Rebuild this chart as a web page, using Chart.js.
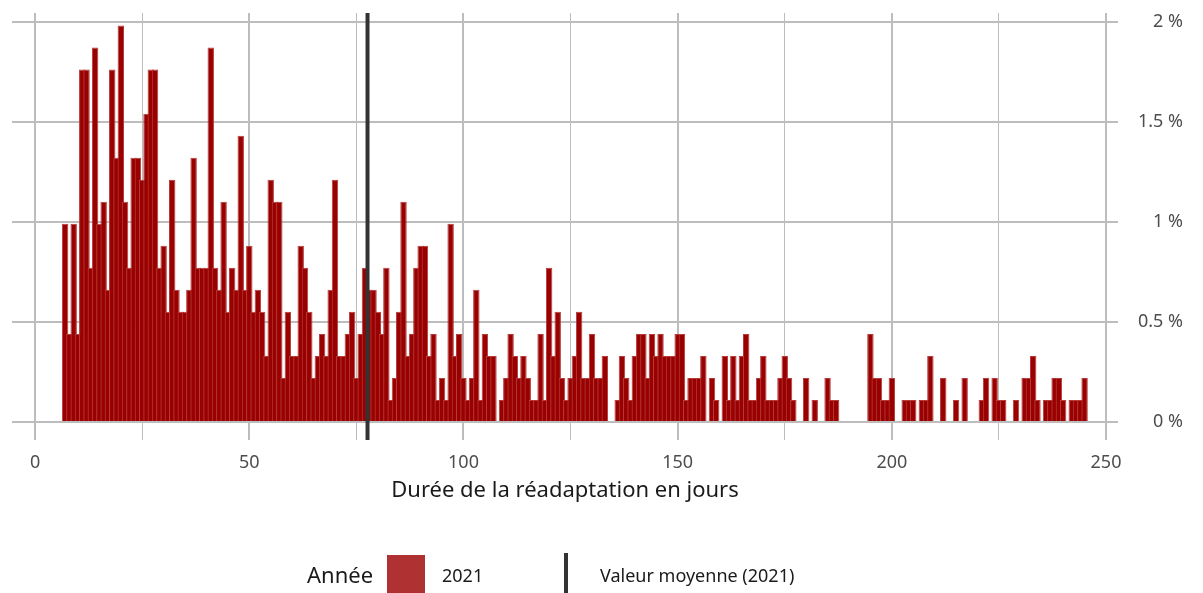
<!DOCTYPE html>
<html>
<head>
<meta charset="utf-8">
<script src="https://cdn.jsdelivr.net/npm/chart.js@4.4.1/dist/chart.umd.min.js"></script>
<style>
  html, body { margin: 0; padding: 0; background: #fff; }
  #wrap { width: 1203px; height: 593px; }
</style>
</head>
<body>
<div id="wrap"><canvas id="dureeChart" width="1203" height="593"></canvas></div>
<script>
// nombre de séjours par durée (jours 7 à 245)
const premierJour = 7;
const sejours = [
  9, 4, 9, 4, 16, 16, 7, 17, 9, 10,
  6, 16, 12, 18, 10, 7, 12, 12, 11, 14,
  16, 16, 7, 8, 5, 11, 6, 5, 5, 6,
  12, 7, 7, 7, 17, 7, 6, 10, 5, 7,
  6, 13, 6, 8, 5, 6, 5, 3, 11, 10,
  10, 2, 5, 3, 3, 8, 7, 5, 2, 3,
  4, 3, 6, 11, 3, 3, 4, 5, 2, 4,
  7, 6, 6, 5, 4, 7, 1, 2, 5, 10,
  3, 4, 7, 8, 8, 3, 4, 1, 2, 1,
  9, 3, 4, 2, 1, 2, 6, 1, 4, 3,
  3, 0, 1, 2, 4, 3, 2, 3, 2, 1,
  1, 4, 1, 7, 3, 5, 2, 1, 2, 3,
  5, 2, 2, 4, 2, 2, 3, 0, 0, 1,
  3, 2, 1, 3, 4, 4, 2, 4, 3, 4,
  3, 3, 3, 4, 4, 1, 2, 2, 2, 3,
  0, 2, 1, 0, 3, 1, 3, 1, 3, 4,
  1, 1, 2, 3, 1, 1, 1, 2, 3, 2,
  1, 0, 0, 2, 0, 1, 0, 0, 2, 1,
  1, 0, 0, 0, 0, 0, 0, 0, 4, 2,
  2, 1, 1, 2, 0, 0, 1, 1, 1, 0,
  1, 1, 3, 0, 0, 2, 0, 0, 1, 0,
  2, 0, 0, 0, 1, 2, 0, 2, 1, 1,
  0, 0, 1, 0, 2, 2, 3, 1, 0, 1,
  1, 2, 2, 1, 0, 1, 1, 1, 2
];
const moyenne = 77.6;
const annee = '2021';

const police = '"Noto Sans", "Open Sans", sans-serif';
const total = sejours.reduce((a, b) => a + b, 0);

const points = [];
sejours.forEach((n, i) => {
  if (n > 0) points.push({ x: premierJour + i, y: n / total * 100 });
});

const yMin = -0.09, yMax = 2.045;

const legendeAnnee = {
  id: 'legendeAnnee',
  afterDraw(chart) {
    const c = chart.ctx;
    c.save();
    c.textBaseline = 'middle';
    c.fillStyle = '#1a1a1a';
    c.font = '22px ' + police;
    c.fillText('Année', 307, 577);
    c.fillStyle = '#b03131';
    c.fillRect(387, 555, 38, 40);
    c.fillStyle = '#1a1a1a';
    c.font = '18px ' + police;
    c.fillText(chart.data.datasets[1].label, 442, 577);
    c.fillStyle = '#333333';
    c.fillRect(564, 553, 4, 40);
    c.fillStyle = '#1a1a1a';
    c.fillText(chart.data.datasets[0].label, 600, 577);
    c.restore();
  }
};

const ctx = document.getElementById('dureeChart').getContext('2d');
new Chart(ctx, {
  type: 'bar',
  data: {
    datasets: [
      {
        type: 'line',
        label: 'Valeur moyenne (' + annee + ')',
        data: [{ x: moyenne, y: yMin }, { x: moyenne, y: yMax }],
        borderColor: '#333333',
        borderWidth: 4,
        pointRadius: 0,
        order: 0
      },
      {
        label: annee,
        data: points,
        backgroundColor: '#990000',
        borderColor: '#b73b3b',
        borderWidth: 1,
        barPercentage: 1.5,
        categoryPercentage: 1,
        order: 1
      }
    ]
  },
  options: {
    responsive: false,
    animation: false,
    devicePixelRatio: 1,
    layout: { padding: { left: 12, right: 20, top: 13, bottom: 85 } },
    scales: {
      x: {
        type: 'linear',
        min: -5.4,
        max: 252.8,
        offset: false,
        border: { display: false },
        grid: {
          offset: false,
          color: '#bdbdbd',
          lineWidth: c => (c.tick && c.tick.value % 50 === 0) ? 2 : 1,
          drawTicks: false
        },
        ticks: {
          stepSize: 25,
          includeBounds: false,
          autoSkip: false,
          maxRotation: 0,
          padding: 12,
          color: '#4d4d4d',
          font: { family: police, size: 18 },
          callback: v => (v % 50 === 0 ? v : '')
        },
        title: {
          display: true,
          text: 'Durée de la réadaptation en jours',
          color: '#1a1a1a',
          font: { family: police, size: 22 },
          padding: { top: 4, bottom: 4 }
        },
        afterFit: s => { s.height = 68; }
      },
      y: {
        position: 'right',
        min: yMin,
        max: yMax,
        border: { display: false },
        grid: { color: '#bdbdbd', lineWidth: 2, drawTicks: false },
        ticks: {
          stepSize: 0.5,
          includeBounds: false,
          crossAlign: 'far',
          padding: 24,
          color: '#4d4d4d',
          font: { family: police, size: 18 },
          callback: v => v + ' %'
        },
        afterFit: s => {
          s.width = 65;
          s.paddingTop = 0;
          s.paddingBottom = 0;
        }
      }
    },
    plugins: {
      legend: { display: false },
      tooltip: { enabled: false }
    }
  },
  plugins: [legendeAnnee]
});
</script>
</body>
</html>
